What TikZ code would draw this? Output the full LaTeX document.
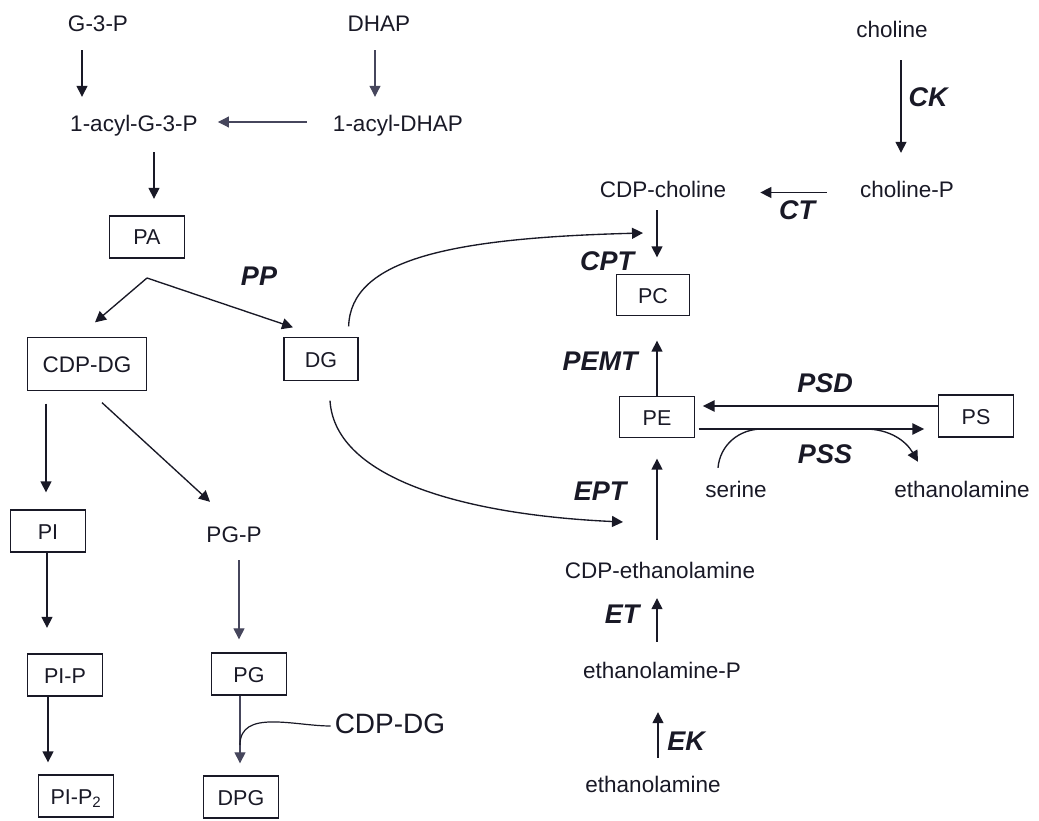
\documentclass[tikz,border=0pt]{standalone}
\usepackage{fontspec}
\setmainfont{Liberation Sans}
\usetikzlibrary{arrows.meta}
\definecolor{ink}{RGB}{25,25,38}
\definecolor{inkl}{RGB}{70,70,92}
\tikzset{
  txt/.style={inner sep=0pt, text height=16pt, text depth=5pt, font=\fontsize{22.5}{27}\selectfont, text=ink, anchor=base},
  enz/.style={inner sep=0pt, font=\fontsize{27}{32}\selectfont\bfseries\itshape, text=ink, anchor=base},
  bx/.style={draw=ink, line width=1.3pt, inner sep=0pt, text height=16pt, text depth=0pt, font=\fontsize{21.5}{26}\selectfont, text=ink, minimum width=75pt, minimum height=42pt},
  arr/.style={draw=ink, line width=1.35pt, -{Triangle[length=11pt,width=11pt]}},
  arrthin/.style={draw=inkl, line width=1.05pt, -{Triangle[length=11pt,width=11pt]}},
  arrthick/.style={draw=ink, line width=2.4pt, -{Triangle[length=12pt,width=11pt]}},
  ln/.style={draw=ink, line width=1.35pt}
}
\begin{document}
\begin{tikzpicture}[x=1pt,y=-1pt]
\useasboundingbox (0,0) rectangle (1039,821);
% left side
\node[txt] (g3p) at (98,32) {G-3-P};
\node[txt] (dhap) at (379,32) {DHAP};
\node[txt] (acg) at (134,132) {1-acyl-G-3-P};
\node[txt] (adhap) at (398,132) {1-acyl-DHAP};
\node[bx] (pa) at (147,237) {PA};
\node[enz] (pp) at (259,285) {PP};
\node[bx, minimum width=119pt, minimum height=53pt, font=\fontsize{22.5}{27}\selectfont] (cdpdg) at (87,364) {CDP-DG};
\node[bx, minimum width=74pt, minimum height=43pt] (dg) at (321,359) {DG};
\node[bx] (pi) at (48,531) {PI};
\node[txt] (pgp) at (234,542) {PG-P};
\node[bx] (pip) at (65,675) {PI-P};
\node[bx] (pg) at (249,674) {PG};
\node[bx] (pip2) at (76,796) {PI-P\textsubscript{2}};
\node[bx] (dpg) at (241,797) {DPG};
\node[txt, font=\fontsize{28}{32}\selectfont, text height=20pt, text depth=6pt] (cdpdg2) at (390,733) {CDP-DG};
% right side
\node[txt] (cho) at (892,38) {choline};
\node[enz] (ck) at (928,107) {CK};
\node[txt] (chop) at (907,198) {choline-P};
\node[enz] (ct) at (797,220) {CT};
\node[txt] (cdpc) at (663,198) {CDP-choline};
\node[enz] (cpt) at (607,270) {CPT};
\node[bx, minimum width=73pt, minimum height=41pt] (pc) at (653,295) {PC};
\node[enz] (pemt) at (600,370) {PEMT};
\node[bx, minimum height=41pt] (pe) at (657,417) {PE};
\node[bx] (ps) at (976,416) {PS};
\node[enz] (psd) at (825,392) {PSD};
\node[enz] (pss) at (825,463) {PSS};
\node[txt] (ser) at (736,497) {serine};
\node[txt] (etn2) at (962,497) {ethanolamine};
\node[enz] (ept) at (600,500) {EPT};
\node[txt] (cdpe) at (660,578) {CDP-ethanolamine};
\node[enz] (et) at (622,623) {ET};
\node[txt] (etnp) at (662,678) {ethanolamine-P};
\node[enz] (ek) at (686,750) {EK};
\node[txt] (etn) at (653,792) {ethanolamine};
% connectors left
\draw[arr, shorten <=13pt, shorten >=19pt] ([xshift=-16pt]g3p.south) -- ([xshift=-52pt]acg.north);
\draw[arrthin, shorten <=13pt, shorten >=19pt] ([xshift=-4pt]dhap.south) -- ([xshift=-23pt]adhap.north);
\draw[arrthin, shorten <=26pt, shorten >=20pt] ([yshift=4.5pt]adhap.west) -- ([yshift=4.5pt]acg.east);
\draw[arr, shorten <=15pt, shorten >=16.5pt] ([xshift=20pt]acg.south) -- ([xshift=7pt]pa.north);
\coordinate (fork) at (147,278);
\draw[arr] (fork) -- ([xshift=8pt,yshift=14.5pt]cdpdg.north);
\draw[arr] (fork) -- ([xshift=-28pt,yshift=9.5pt]dg.north);
\draw[arr, shorten <=12.5pt, shorten >=17pt] ([xshift=-41pt]cdpdg.south) -- ([xshift=-2pt]pi.north);
\draw[arr] ([xshift=15pt,yshift=-11.5pt]cdpdg.south) -- ([xshift=-24pt,yshift=24pt]pgp.north);
\draw[arr, shorten >=25.5pt] ([xshift=-1pt]pi.south) -- ([xshift=-18pt]pip.north);
\draw[arrthin, shorten <=13pt, shorten >=13pt] ([xshift=5pt]pgp.south) -- ([xshift=-10pt]pg.north);
\draw[arr, shorten >=12pt] ([xshift=-17pt]pip.south) -- ([xshift=-28pt]pip2.north);
\draw[arrthin, shorten >=12pt] ([xshift=-9pt]pg.south) -- ([xshift=-1pt]dpg.north);
\coordinate (merge) at (240,745);
\draw[ln, line width=1.2pt] ([xshift=-4pt]cdpdg2.west) to[out=180,in=90] (merge);
% connectors right
\draw[arr, shorten <=17pt, shorten >=29pt] ([xshift=9pt]cho.south) -- ([xshift=-6pt]chop.north);
\draw[arr, shorten <=33pt, shorten >=34pt] (chop.west) -- (cdpc.east);
\draw[arr, shorten <=7pt, shorten >=16.5pt] ([xshift=-6pt]cdpc.south) -- ([xshift=4pt]pc.north);
\coordinate (cptin) at (643,233);
\draw[arr] ([xshift=-10pt,yshift=10.5pt]dg.north east) .. controls +(2,-67) and +(-193,5) .. (cptin);
\coordinate (eptin) at (623,522);
\draw[arr] ([xshift=9pt,yshift=-19.5pt]dg.south) .. controls +(5,80) and +(-153,-7) .. (eptin);
\draw[arr, shorten >=24.5pt] (pe.north) -- ([xshift=4pt]pc.south);
\draw[arr, shorten <=22pt, shorten >=20.5pt] ([xshift=-3pt]cdpe.north) -- (pe.south);
\draw[arrthick, shorten >=7.5pt] ([yshift=10pt]ps.west) -- ([yshift=11pt]pe.east);
\draw[arrthick, shorten <=3.5pt, shorten >=13.5pt] ([yshift=-12pt]pe.east) -- ([yshift=-13pt]ps.west);
\coordinate (sm) at (762,429);
\draw[ln] ([xshift=-18pt,yshift=13pt]ser.north) to[out=85,in=180] (sm);
\coordinate (em) at (865,429);
\draw[arr] (em) to[out=0,in=120] ([xshift=-44pt,yshift=19pt]etn2.north);
\draw[arr, shorten <=20pt, shorten >=15pt] ([xshift=-5pt]etnp.north) -- ([xshift=-3pt]cdpe.south);
\draw[arr, shorten <=18pt, shorten >=29pt] ([xshift=5pt]etn.north) -- ([xshift=-4pt]etnp.south);
\end{tikzpicture}
\end{document}
